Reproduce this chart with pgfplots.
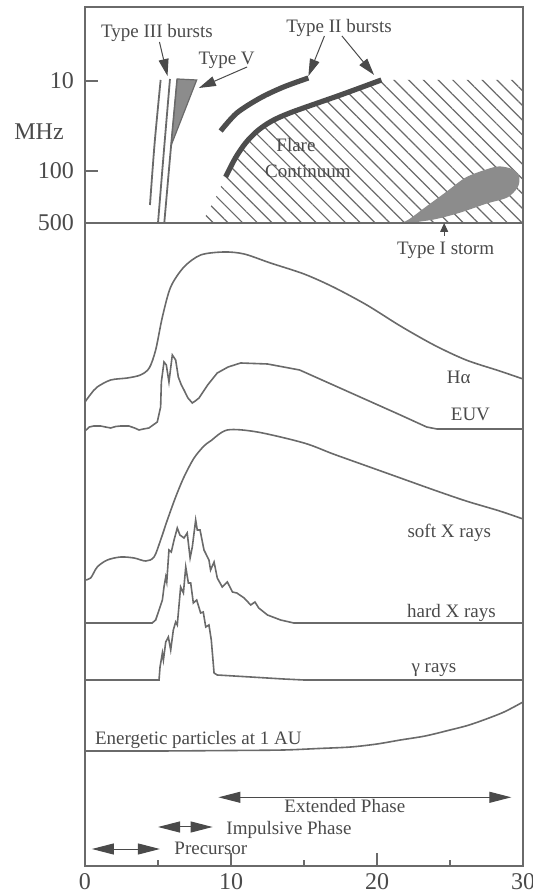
\documentclass[border=0pt]{standalone}
\usepackage{fontspec}
\setmainfont{Liberation Serif}
\usepackage{pgfplots}
\pgfplotsset{compat=1.18}
\usetikzlibrary{arrows.meta,patterns.meta}

\definecolor{ink}{HTML}{4A4A4A}
\definecolor{crv}{HTML}{6A6A6A}
\definecolor{blob}{HTML}{8C8C8C}
\definecolor{burst}{HTML}{4D4D4D}

\begin{document}
\begin{tikzpicture}[
  lbl/.style={font=\fontsize{9.5}{11}\selectfont, text=ink, inner sep=0pt},
  arr/.style={ink, line width=0.5pt, -{Triangle[length=8.5pt,width=5pt]}},
  darr/.style={ink, line width=0.5pt, {Triangle[length=11pt,width=5.5pt]}-{Triangle[length=11pt,width=5.5pt]}}]
\begin{axis}[
  name=main,
  scale only axis,
  width=219pt, height=429.5pt,
  xmin=0, xmax=30, ymin=0, ymax=859,
  clip=false,
  axis line style={crv, line width=0.8pt},
  tick style={crv, line width=0.7pt},
  tick align=inside, tick pos=left,
  xtick={0,10,20,30}, minor xtick={5,15,25},
  major tick length=6.5pt, minor tick length=3pt,
  ytick={643,695,785}, yticklabels={500,100,10},
  ticklabel style={font=\fontsize{12}{13}\selectfont, text=ink},
  yticklabel style={xshift=-2pt},
  /pgf/number format/assume math mode=true]

% radio panel: flare continuum hatching
\addplot[draw=none, pattern={Lines[angle=-45,distance=5.2pt,line width=0.6pt]}, pattern color=crv]
  coordinates {(8.0,643) (8.9,667) (9.63,689) (10.3,708) (11.0,723) (11.8,735) (12.8,745)
  (14.2,754) (17.5,771) (20.3,786) (30,786) (30,643)} -- cycle;

% type I storm
\addplot[smooth, fill=blob, draw=blob, line width=0.6pt] coordinates {
(21.8,643) (23.86,647) (25.7,654) (27.5,663) (28.9,669) (29.6,679) (29.7,689)
(29.3,696) (28.4,699) (27.5,696) (26.1,688) (24.8,674) (23.4,659) (22.3,647) (21.8,643)} -- cycle;

% separator (500 MHz)
\addplot[crv, line width=0.8pt] coordinates {(0,643) (30,643)};

% type III bursts
\addplot[crv, line width=0.9pt, smooth] coordinates {(5.18,786) (4.77,723) (4.45,661)};
\addplot[crv, line width=0.9pt, smooth] coordinates {(5.82,787) (5.41,716) (5.0,643)};
\addplot[crv, line width=0.9pt, smooth] coordinates {(6.32,787) (5.87,716) (5.43,643)};
% type V
\addplot[fill=blob, draw=crv, line width=0.6pt] coordinates {(6.32,787) (7.65,786) (5.91,721)} -- cycle;

% type II bursts
\addplot[burst, line width=2.6pt, smooth] coordinates {
(9.29,735) (10.4,753) (12.0,768) (13.6,779) (15.3,788)};
\addplot[burst, line width=2.6pt, smooth] coordinates {
(9.63,689) (10.3,708) (11.0,723) (11.8,735) (12.8,745) (14.2,754) (17.5,771) (20.3,786)};

% H-alpha
\addplot[crv, line width=0.8pt, smooth] coordinates {
(0,464) (0.4,472) (0.84,479) (1.76,486) (2.9,488) (3.8,491) (4.4,498) (4.84,516)
(5.3,549) (5.87,579) (6.78,599) (7.92,611) (9.52,614) (10.9,612) (12.7,603)
(15.0,592) (17.0,579) (19.3,561) (21.6,540) (23.9,521) (26.1,506) (28.4,495) (30,487)};

% EUV
\addplot[crv, line width=0.8pt] coordinates {
(0,435) (0.3,439) (0.6,440) (1.07,440) (1.4,439) (1.76,438) (2.1,439.5) (2.45,440)
(3.0,440) (3.4,438) (3.7,436) (4.0,437) (4.38,438) (4.95,444) (5.18,459) (5.23,484)
(5.41,504) (5.57,501) (5.75,484) (5.98,511) (6.21,506) (6.39,489) (6.6,481)
(6.78,476) (7.05,468) (7.35,463) (7.55,465) (7.81,468) (8.4,481) (9.06,493)
(9.8,499) (10.66,503) (12.5,502) (14.7,496) (17.0,481) (19.3,466) (21.6,451)
(23.4,439) (24.1,437) (30,437)};

% soft X rays
\addplot[crv, line width=0.8pt, smooth] coordinates {
(0,286) (0.39,288) (0.84,299) (1.53,306) (2.45,309) (3.36,308) (4.16,305) (4.73,309)
(5.18,326) (5.64,346) (6.21,369) (6.78,389) (7.47,408) (8.15,420) (8.6,425) (9.75,436)
(11.8,434) (15,423) (17,412) (19.3,400) (21.6,388) (23.9,376) (26.1,365) (28.4,355) (30,347)};

% hard X rays
\addplot[crv, line width=0.8pt] coordinates {
(0,243) (4.6,243) (4.84,246) (5.07,256) (5.3,266) (5.41,279) (5.53,289) (5.6,284)
(5.75,316) (5.91,314) (6.1,326) (6.32,338) (6.5,331) (6.78,328) (7.0,333) (7.2,308)
(7.35,319) (7.58,346) (7.69,336) (7.88,336) (8.15,316) (8.49,306) (8.6,296) (8.84,304)
(9.06,288) (9.4,279) (9.75,284) (10.1,274) (10.4,273) (10.9,268) (11.35,261)
(11.64,264) (11.9,258) (12.5,251) (13.4,246) (14.3,243) (30,243)};

% gamma rays
\addplot[crv, line width=0.8pt] coordinates {
(0,186) (5.07,186) (5.14,199) (5.3,213) (5.37,206) (5.53,224) (5.71,229) (5.87,216)
(6.05,236) (6.21,244) (6.32,241) (6.55,279) (6.74,273) (6.9,299) (7.08,283) (7.24,283)
(7.42,263) (7.65,266) (7.92,253) (8.1,254) (8.27,239) (8.49,241) (8.65,226) (8.84,193)
(9.06,191) (11.35,189) (13.6,187) (15,186) (30,186)};

% energetic particles
\addplot[crv, line width=0.8pt, smooth] coordinates {
(0,115) (5,115) (10,115.5) (13.6,116) (16,117.5) (18.2,119) (20,122) (21.6,126)
(23.3,130) (25.0,136) (26.2,140.5) (27.3,146) (28.7,154) (30,164)};

% phase arrows
\addplot[darr] coordinates {(9.14,68.7) (29.2,68.7)};
\addplot[darr] coordinates {(5.0,39) (8.74,39)};
\addplot[darr] coordinates {(0.47,17) (5.13,17)};

% burst arrows
\addplot[arr] coordinates {(5.1,824) (5.65,790)};
\addplot[arr] coordinates {(11.1,799) (7.8,778)};
\addplot[arr] coordinates {(16.4,830) (15.3,790)};
\addplot[arr] coordinates {(17.6,830) (19.8,791)};
\addplot[ink, line width=0.5pt, -{Triangle[length=4.5pt,width=4pt]}] coordinates {(24.6,630) (24.6,643)};

% labels
\node[font=\fontsize{12}{13}\selectfont, text=ink, anchor=base] at (axis cs:-3.15,726.5) {MHz};
\node[lbl, anchor=base] at (axis cs:4.93,828.6) {Type III bursts};
\node[lbl, anchor=base] at (axis cs:9.7,801) {Type V};
\node[lbl, anchor=base] at (axis cs:17.4,833) {Type II bursts};
\node[lbl, anchor=base] at (axis cs:14.45,714) {Flare};
\node[lbl, anchor=base] at (axis cs:15.27,688) {Continuum};
\node[lbl, anchor=base] at (axis cs:24.7,611) {Type I storm};
\node[lbl, anchor=base] at (axis cs:25.6,482) {Hα};
\node[lbl, anchor=base] at (axis cs:26.4,445) {EUV};
\node[lbl, anchor=base] at (axis cs:24.95,328) {soft X rays};
\node[lbl, anchor=base] at (axis cs:25.1,248) {hard X rays};
\node[lbl, anchor=base] at (axis cs:23.9,193) {γ rays};
\node[lbl, anchor=base west] at (axis cs:0.66,121) {Energetic particles at 1 AU};
\node[lbl, anchor=base] at (axis cs:17.8,54) {Extended Phase};
\node[lbl, anchor=base west] at (axis cs:9.66,32) {Impulsive Phase};
\node[lbl, anchor=base west] at (axis cs:6.1,11) {Precursor};
\end{axis}
\pgfresetboundingbox
\path ([shift={(-42.5pt,-13pt)}]main.south west) rectangle ([shift={(5pt,3.5pt)}]main.north east);
\end{tikzpicture}
\end{document}
